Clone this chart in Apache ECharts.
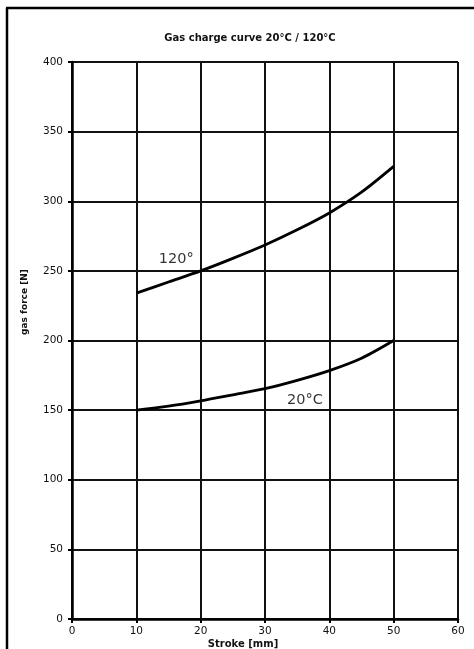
<!DOCTYPE html>
<html>
<head>
<meta charset="utf-8">
<script src="https://cdn.jsdelivr.net/npm/echarts@6/dist/echarts.min.js"></script>
<style>
  html, body { margin: 0; padding: 0; background: #fff; }
  #chart { width: 474px; height: 649px; }
</style>
</head>
<body>
<div id="chart"></div>
<script>
// Stroke positions [mm]
const stroke = [10, 15, 20, 25, 30, 35, 40, 45, 50];
// Gas force [N] at 120 °C and 20 °C
const force120 = [234, 242, 250, 259, 268.6, 279.5, 291.6, 306.5, 325];
const force20 = [150, 152.9, 156.7, 161, 165.4, 171.4, 178.4, 187.3, 200];
// Curve captions and where they sit (stroke, force)
const captions = [
  { text: '120°', at: [16.2, 258.5] },
  { text: '20°C', at: [36.2, 157] }
];
const xTicks = [0, 10, 20, 30, 40, 50, 60];
const yTicks = [0, 50, 100, 150, 200, 250, 300, 350, 400];

const FONT = 'DejaVu Sans';
const chart = echarts.init(document.getElementById('chart'), null, { renderer: 'canvas' });

const pairs = (xs, ys) => xs.map((x, i) => [x, ys[i]]);

chart.setOption({
  animation: false,
  backgroundColor: '#fff',
  grid: { left: 72, right: 16, top: 62, bottom: 30, containLabel: false },
  xAxis: {
    type: 'value',
    min: xTicks[0], max: xTicks[xTicks.length - 1], interval: 10,
    axisLine: { show: true, onZero: false, lineStyle: { color: '#000', width: 2.5 } },
    axisTick: { show: true, length: 4, lineStyle: { color: '#000', width: 2 } },
    axisLabel: { color: '#111', fontFamily: FONT, fontSize: 10.5, margin: 7 },
    splitLine: { show: true, lineStyle: { color: '#111', width: 2 } }
  },
  yAxis: {
    type: 'value',
    min: yTicks[0], max: yTicks[yTicks.length - 1], interval: 50,
    axisLine: { show: true, onZero: false, lineStyle: { color: '#000', width: 2.5 } },
    axisTick: { show: true, length: 4, lineStyle: { color: '#000', width: 2 } },
    axisLabel: { color: '#111', fontFamily: FONT, fontSize: 10.5, margin: 9 },
    splitLine: { show: true, lineStyle: { color: '#111', width: 2 } }
  },
  series: [
    {
      name: '120°C', type: 'line', smooth: 0.3, symbol: 'none',
      data: pairs(stroke, force120),
      lineStyle: { color: '#000', width: 2.8 }
    },
    {
      name: '20°C', type: 'line', smooth: 0.3, symbol: 'none',
      data: pairs(stroke, force20),
      lineStyle: { color: '#000', width: 2.8 }
    },
    {
      type: 'scatter', symbolSize: 0, silent: true,
      data: captions.map(c => ({ value: c.at, name: c.text })),
      label: {
        show: true, position: 'inside', formatter: p => p.name,
        color: '#000', fontFamily: FONT, fontSize: 14.5
      }
    }
  ],
  graphic: [
    { type: 'line', shape: { x1: 6, y1: 8, x2: 474, y2: 8 }, style: { stroke: '#000', lineWidth: 2.5 } },
    { type: 'line', shape: { x1: 7, y1: 8, x2: 7, y2: 649 }, style: { stroke: '#000', lineWidth: 2.5 } },
    {
      type: 'text', x: 250, y: 38,
      style: { text: 'Gas charge curve 20°C / 120°C', fill: '#111', font: 'bold 10px "' + FONT + '"', textAlign: 'center', textVerticalAlign: 'middle' }
    },
    {
      type: 'text', x: 25, y: 302, rotation: Math.PI / 2,
      style: { text: 'gas force [N]', fill: '#111', font: 'bold 9px "' + FONT + '"', textAlign: 'center', textVerticalAlign: 'middle' }
    },
    {
      type: 'text', x: 243, y: 644,
      style: { text: 'Stroke [mm]', fill: '#111', font: 'bold 10px "' + FONT + '"', textAlign: 'center', textVerticalAlign: 'middle' }
    }
  ]
});
</script>
</body>
</html>
